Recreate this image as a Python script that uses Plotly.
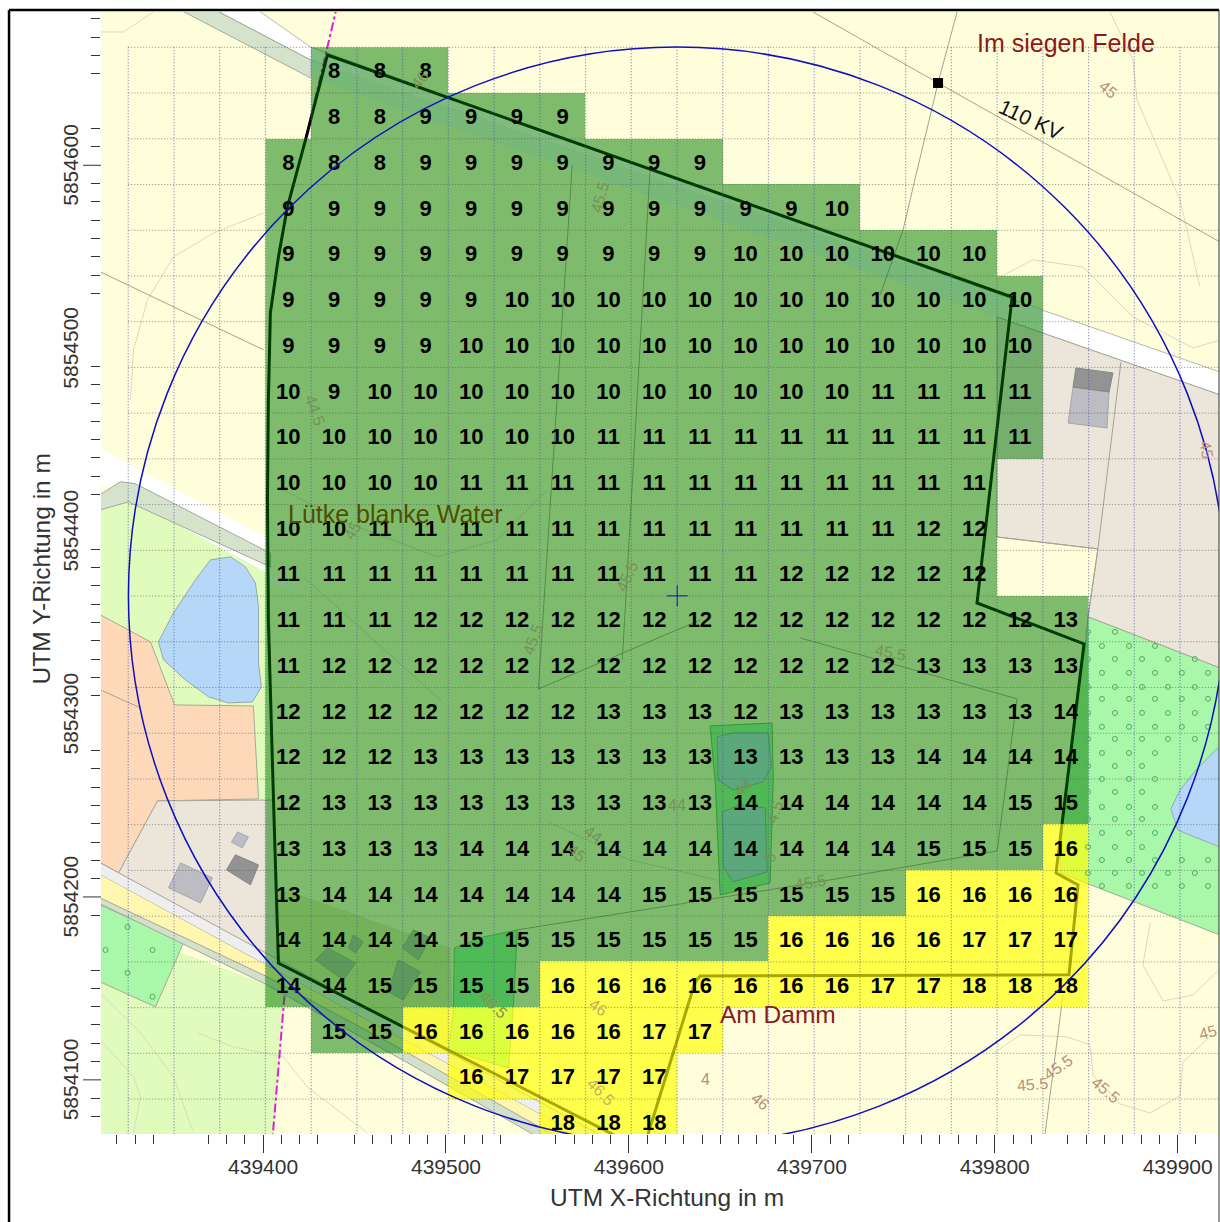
import plotly.graph_objects as go

# ---------- values ----------
E0 = 439000
N0 = 5854000
_ = None
cell_east = [439413.8, 439438.8, 439463.8, 439488.8, 439513.8, 439538.8, 439563.8, 439588.8, 439613.8,
             439638.8, 439663.8, 439688.8, 439713.8, 439738.8, 439763.8, 439788.8, 439813.8, 439838.8]
cell_north = [5854652, 5854627, 5854602, 5854577, 5854552, 5854527, 5854502, 5854477, 5854452, 5854427,
              5854402, 5854377, 5854352, 5854327, 5854302, 5854277, 5854252, 5854227, 5854202, 5854177,
              5854152, 5854127, 5854102, 5854077]
cell_values = [
    [_, 8, 8, 8, _, _, _, _, _, _, _, _, _, _, _, _, _, _],
    [_, 8, 8, 9, 9, 9, 9, _, _, _, _, _, _, _, _, _, _, _],
    [8, 8, 8, 9, 9, 9, 9, 9, 9, 9, _, _, _, _, _, _, _, _],
    [9, 9, 9, 9, 9, 9, 9, 9, 9, 9, 9, 9, 10, _, _, _, _, _],
    [9, 9, 9, 9, 9, 9, 9, 9, 9, 9, 10, 10, 10, 10, 10, 10, _, _],
    [9, 9, 9, 9, 9, 10, 10, 10, 10, 10, 10, 10, 10, 10, 10, 10, 10, _],
    [9, 9, 9, 9, 10, 10, 10, 10, 10, 10, 10, 10, 10, 10, 10, 10, 10, _],
    [10, 9, 10, 10, 10, 10, 10, 10, 10, 10, 10, 10, 10, 11, 11, 11, 11, _],
    [10, 10, 10, 10, 10, 10, 10, 11, 11, 11, 11, 11, 11, 11, 11, 11, 11, _],
    [10, 10, 10, 10, 11, 11, 11, 11, 11, 11, 11, 11, 11, 11, 11, 11, _, _],
    [10, 10, 11, 11, 11, 11, 11, 11, 11, 11, 11, 11, 11, 11, 12, 12, _, _],
    [11, 11, 11, 11, 11, 11, 11, 11, 11, 11, 11, 12, 12, 12, 12, 12, _, _],
    [11, 11, 11, 12, 12, 12, 12, 12, 12, 12, 12, 12, 12, 12, 12, 12, 12, 13],
    [11, 12, 12, 12, 12, 12, 12, 12, 12, 12, 12, 12, 12, 12, 13, 13, 13, 13],
    [12, 12, 12, 12, 12, 12, 12, 13, 13, 13, 12, 13, 13, 13, 13, 13, 13, 14],
    [12, 12, 12, 13, 13, 13, 13, 13, 13, 13, 13, 13, 13, 13, 14, 14, 14, 14],
    [12, 13, 13, 13, 13, 13, 13, 13, 13, 13, 14, 14, 14, 14, 14, 14, 15, 15],
    [13, 13, 13, 13, 14, 14, 14, 14, 14, 14, 14, 14, 14, 14, 15, 15, 15, 16],
    [13, 14, 14, 14, 14, 14, 14, 14, 15, 15, 15, 15, 15, 15, 16, 16, 16, 16],
    [14, 14, 14, 14, 15, 15, 15, 15, 15, 15, 15, 16, 16, 16, 16, 17, 17, 17],
    [14, 14, 15, 15, 15, 15, 16, 16, 16, 16, 16, 16, 16, 17, 17, 18, 18, 18],
    [_, 15, 15, 16, 16, 16, 16, 16, 17, 17, _, _, _, _, _, _, _, _],
    [_, _, _, _, 16, 17, 17, 17, 17, _, _, _, _, _, _, _, _, _],
    [_, _, _, _, _, _, 18, 18, 18, _, _, _, _, _, _, _, _, _],
]
x_tick_vals = [439400, 439500, 439600, 439700, 439800, 439900]
y_tick_vals = [5854100, 5854200, 5854300, 5854400, 5854500, 5854600]
y_long_ticks = [5854100, 5854200, 5854600]
x_minor_offsets = [320, 330, 340, 370, 380, 390, 410, 420, 430, 450, 460, 470, 480, 490, 510, 520, 530, 560, 570,
                   580, 590, 610, 620, 630, 640, 650, 660, 670, 680, 690, 710, 720, 750, 760, 770, 780, 790, 810,
                   820, 840, 850, 860, 870, 880, 890, 910]
y_minor_offsets = [80, 90, 110, 120, 130, 140, 150, 160, 190, 210, 220, 230, 240, 250, 260, 270, 280, 310, 320, 330,
                   340, 350, 360, 370, 380, 390, 420, 430, 440, 450, 460, 470, 480, 490, 530, 540, 550, 560, 570,
                   580, 590, 610, 620, 650, 660, 670, 680]
grid_east = [326.3, 351.3, 376.3, 401.3, 426.3, 451.3, 476.3, 501.3, 526.3, 551.3, 576.3, 601.3, 626.3, 651.3,
             676.3, 701.3, 726.3, 751.3, 776.3, 801.3, 826.3, 851.3, 876.3, 901.3]
grid_north = [664.5, 639.5, 614.5, 589.5, 564.5, 539.5, 514.5, 489.5, 464.5, 439.5, 414.5, 389.5, 364.5, 339.5,
              314.5, 289.5, 264.5, 239.5, 214.5, 189.5, 164.5, 139.5, 114.5, 89.5]

# map underlay, metres east of E0 / north of N0
site_boundary = [(435.2, 660.3), (809.5, 528), (790.3, 360.7), (848.8, 338.3), (833.5, 213.1), (845.5, 206.6),
                 (840.6, 157.4), (639, 156.8), (636.2, 153.5), (607.8, 61.7), (408.4, 163.9), (405.7, 253),
                 (402.9, 351.4), (402.4, 417), (402.9, 471.7), (404, 519.3), (408.4, 549.9), (413.3, 577.2),
                 (423.2, 613.9)]
circle_center = (626.4, 364.6)
circle_radius = 300
land_lime_w = [(311.1, 411.6), (326.4, 416), (404, 380.4), (404, 253), (311.1, 253)]
land_peach = [(311.1, 354.2), (338.5, 339.4), (351.6, 305), (394.7, 304.4), (397.5, 253.6), (342.3, 252.5),
              (321, 213.1), (311.1, 218.6)]
land_tan_w = [(342.3, 252.5), (405.7, 253), (408.4, 164.5), (311.1, 218.6), (321, 213.1)]
land_tan_e = [(801.3, 517.1), (825.9, 508.4), (923.1, 474.5), (923.1, 325.2), (851, 353.1), (856.4, 390.3),
              (801.3, 396.8)]
land_lime_sw = [(300, 190), (401.3, 152.4), (411.7, 145.9), (411.1, 138.2), (405.7, 70.4), (404, 60), (300, 60)]
land_green_sw = [(311.1, 195.6), (356.5, 174.9), (341.2, 139.9), (311.1, 153.5)]
land_green_se = [(851, 353.1), (923.1, 325.2), (923.1, 179.2), (835.7, 213.1), (836.8, 238.8), (845, 310.4),
                 (849.3, 335)]
land_garden = [(420.4, 201.1), (502.4, 172.1), (503.5, 136.6), (501.3, 116.4), (476.2, 116.4), (420.4, 151.9),
               (408.4, 164.5), (408.4, 203.8)]
land_green_s = [(504.6, 172.1), (520.4, 178.1), (539, 182), (536.8, 139.9), (534.1, 106.5), (501.3, 116.4),
                (504, 136.6)]
basin_outer = [(644.4, 293.5), (678.3, 295.1), (678.9, 263.9), (677.2, 207.7), (649.9, 201.1), (647.2, 262.3)]
basin_1 = [(648.3, 287.5), (657, 289.7), (676.1, 289.7), (677.8, 271.1), (673.4, 262.9), (657, 258.5), (648.8, 263.9)]
basin_2 = [(651, 246.5), (660.8, 250.3), (674.5, 248.7), (675.6, 213.7), (657, 208.2), (651.5, 216.4), (651.5, 235)]
lake_w = [(382.2, 385.9), (371.2, 384.3), (363, 373.3), (351, 355.3), (342.8, 339.4), (345.6, 329.6), (357.6, 318.6),
          (370.2, 309.4), (381.1, 306.1), (394.2, 306.6), (399.1, 314.8), (397.5, 327.9), (397.5, 358.6),
          (395.8, 371.7), (390.4, 380.4)]
lake_e = [(923.1, 282.6), (910.5, 270), (901.3, 258.5), (896.3, 248.1), (900.1, 236.6), (910.5, 232.3), (923.1, 227.3)]
road_white_sw = [(311.1, 218.6), (595.3, 63.9), (595.3, 57.3), (311.1, 212)]
road_yellow_sw = [(311.1, 212), (595.3, 57.3), (573.4, 61.7), (476.2, 116.4), (401.3, 156.8), (311.1, 199.4)]
road_grey_sw = [(311.1, 199.4), (401.3, 156.8), (476.2, 116.4), (573.4, 61.7), (562.5, 61.7), (476.2, 110.9),
                (401.3, 152.4), (311.1, 196.2)]
road_grey_ne = [(349.4, 687.7), (368.5, 687.7), (425.9, 657.6), (425.9, 647.8)]
road_pale_ne = [(425.9, 657.6), (825.9, 520.9), (825.9, 508.4), (425.9, 647.8)]
road_white_ne = [(368.5, 687.7), (393.1, 687.7), (425.9, 664.7), (825.9, 520.9), (923.1, 487), (923.1, 474.5),
                 (825.9, 508.4), (425.9, 657.6)]
road_white_w = [(311.1, 426), (425, 365), (404, 372), (404, 396), (395, 400), (311.1, 445)]
road_grey_w = [(311.1, 411.6), (326.4, 416), (404, 380.4), (404, 388), (330, 426), (322, 427), (311.1, 420)]
buildings_light = [
    [(354.9, 218.6), (348.3, 205), (365.8, 196.7), (372.3, 210.4)],
    [(386, 235.5), (382.7, 230), (388.7, 226.8), (392, 232.8)],
    [(842.8, 478.8), (862.5, 476.1), (861.4, 456.4), (840.1, 459.1)],
]
buildings_dark = [
    [(384.9, 223), (380, 214.8), (393.1, 206.6), (397.5, 217.5)],
    [(844.4, 489.2), (864.6, 486.5), (862.5, 476.1), (842.8, 478.8)],
]
buildings_under_cells = [
    [(428.6, 165.6), (435.2, 172.1), (450.5, 163.9), (443.9, 154.6)],
    [(449.4, 179.2), (454.8, 175.4), (450.5, 169.4), (446.6, 172.1)],
    [(482.2, 182), (491.5, 177.6), (484.9, 165.6), (476.1, 172.1)],
    [(474, 165.6), (486, 159), (476.7, 143.7), (468.5, 148.1)],
]
parcel_lines = [
    [(700.7, 683.8), (769, 645), (923.1, 558.1)],
    [(779.4, 683.8), (769, 645), (755.4, 588.2), (749.9, 564.7), (737.3, 529.1)],
    [(569, 600.2), (550.5, 313.7), (639, 351.4)],
    [(611.7, 600.2), (596.4, 329.6)],
    [(693.6, 341.6), (812.2, 308.3), (801.3, 225.1), (700.7, 207.7), (539, 182)],
    [(311.1, 541.7), (400.2, 499.1)],
    [(837.3, 146.4), (827.5, 70.4)],
    [(311.1, 313.2), (333, 303.3)],
    [(869, 492.5), (856.4, 390.3), (851, 353.1)],
    [(801.3, 396.8), (856.4, 390.3)],
]
contour_lines = [
    [(311.1, 672.9), (323.7, 672.9), (340.1, 683.8)],
    [(327.5, 471.7), (329.2, 499.1), (336.8, 526.4), (351, 549.9), (372.9, 563), (400.2, 573.9)],
    [(311.1, 147.5), (333, 125.7), (351, 101.6), (361.4, 72.6)],
    [(311.1, 121.8), (329.2, 101.6), (333, 90.7), (329.2, 71)],
    [(364.1, 125.7), (383.8, 118), (411.1, 112.5), (424.2, 96.1), (457, 71)],
    [(884.9, 185.8), (881, 162.8), (892, 143.1), (908.4, 146.4), (923.1, 160.6)],
    [(799.1, 114.2), (813.8, 124.6), (839.5, 123.5), (852.1, 119.1), (853.7, 102.7), (868.5, 86.8), (884.9, 81.9),
     (901.3, 91.2), (902.9, 109.8), (917.6, 123.5)],
    [(863, 683.8), (875.6, 657.6), (877.8, 635.7), (901.3, 581), (912.2, 533.5)],
    [(802.9, 539), (820.9, 548.3), (848.3, 544.4), (875.6, 517.1), (908.4, 500.1), (923.1, 504.5)],
    [(411.1, 422.5), (446.1, 404.5), (495.3, 385.9), (528.1, 395.2), (555.4, 422.5)],
    [(557, 240.5), (577.2, 231.2), (600.7, 220.2), (648.3, 209.3)],
    [(422.1, 375), (498.6, 306.1)],
]
power_line_top = [(440.6, 687.7), (423.2, 613.9)]
power_line_bottom = [(411.7, 145.9), (405.1, 67.1)]
tree_a_e = [851, 865.7, 880.5, 894.7, 909.4]
tree_a_n = [344.9, 330.1, 314.8, 300.6, 286.4, 271.6, 257.4, 242.6, 227.3, 213.1]
tree_b_e = [858.6, 873.4, 887.6, 902.3, 916.6]
tree_b_n = [337.2, 322.5, 308.3, 293, 278.7, 264.5, 249.2, 235, 220.2, 206]
tree_sw = [(325.9, 183.6), (313.9, 171), (339.6, 171), (325.9, 158.5), (339.6, 145.4)]
mast = (769, 645)
contour_labels = [
    ("45", 861.9, 641.2, 40, "#b98f7c"), ("45.5", 820.9, 97.2, -5, "#b98f7c"), ("45.5", 834.6, 106.5, -35, "#b98f7c"),
    ("45.5", 860.3, 94.5, 40, "#b98f7c"), ("45", 916.5, 125.7, -15, "#b98f7c"), ("4", 641.7, 100, 0, "#b98f7c"),
    ("46", 671.8, 87.9, 40, "#b98f7c"), ("46.5", 584.3, 93.4, 45, "#c2b060"), ("46", 583.2, 139.3, 35, "#c2b060"),
    ("46.5", 525.9, 141, 45, "#8f8f50"), ("44", 626.4, 249.8, 0, "#76925a"), ("44", 662.5, 260.1, -40, "#76925a"),
    ("4.5", 680, 246.5, -70, "#76925a"), ("5", 677.2, 221.3, -70, "#76925a"), ("44", 580.5, 233.9, 35, "#76925a"),
    ("45", 571.8, 224, 40, "#76925a"), ("45.5", 599.1, 375, -65, "#76925a"), ("45.5", 584.3, 582.2, -75, "#76925a"),
    ("45.5", 547.7, 340.5, -70, "#76925a"), ("45.5", 742.8, 333.9, 10, "#76925a"), ("45.5", 699.1, 207.7, -10, "#76925a"),
    ("44.5", 428.6, 466.2, 70, "#76925a"), ("45", 448.8, 400.6, -60, "#76925a"), ("46", 486, 646.7, -50, "#76925a"),
    ("45", 915.5, 444.4, 80, "#b98f7c"),
]
place_labels = [
    ("Im siegen Felde", 839, 666.9, 0, 25, "#8b1a1a"),
    ("Am Damm", 681.6, 135.5, 0, 24.5, "#8b1a1a"),
    ("Lütke blanke Water", 472.3, 409.4, 0, 25, "#4f4f00"),
    ("110 KV", 819.8, 624.8, 25, 21, "#111111"),
]
FONT = "Liberation Sans, Arial, sans-serif"


# ---------- helpers ----------
def utm(p):
    return E0 + p[0], N0 + p[1]


def poly(points, fill, line="rgba(0,0,0,0)", width=0, layer="below"):
    coords = [utm(p) for p in points]
    path = "M " + " L ".join(f"{x},{y}" for x, y in coords) + " Z"
    return dict(type="path", path=path, xref="x", yref="y", fillcolor=fill, layer=layer,
                line=dict(color=line, width=width))


def polyline(points, color, width=1, dash="solid", layer="below"):
    coords = [utm(p) for p in points]
    path = "M " + " L ".join(f"{x},{y}" for x, y in coords)
    return dict(type="path", path=path, xref="x", yref="y", layer=layer, line=dict(color=color, width=width, dash=dash))


EDGE = "#a5a89a"
shapes = [
    poly(road_white_ne, "#ffffff", "#b8b8a8", 1),
    poly(road_grey_ne, "#d5e3cd", EDGE, 1),
    poly(road_pale_ne, "#eef6ee"),
    poly(land_lime_w, "#e0fbbb"),
    poly(road_white_w, "#ffffff"),
    poly(road_grey_w, "#d5e3cd", EDGE, 1),
    poly(land_peach, "#fdd9ba", EDGE, 1),
    poly(land_tan_w, "#ebe5da", EDGE, 1),
    poly(land_tan_e, "#ebe5da", EDGE, 1),
    poly(land_lime_sw, "#e0fbbb"),
    poly(land_green_sw, "#a9f7a9", EDGE, 1),
    poly(land_green_se, "#a9f7a9", EDGE, 1),
    poly(land_garden, "#e6edb0"),
    poly(land_green_s, "#9cfcb0", "#7fbf70", 1),
    poly(basin_outer, "#a0f8a8", "#6fb070", 1),
    poly(basin_1, "#b5d8f8", "#8fa8b0", 1),
    poly(basin_2, "#b5d8f8", "#8fa8b0", 1),
    poly(lake_w, "#b5d8f8", "#98a8b0", 1),
    poly(lake_e, "#b5d8f8", "#98a8b0", 1),
    poly(road_white_sw, "#eeeeee", EDGE, 1),
    poly(road_yellow_sw, "#fff7b0"),
    poly(road_grey_sw, "#d3e0ca", EDGE, 1),
]
shapes += [poly(b, "#bcbcc2", "#a8a8a8", 1) for b in buildings_light]
shapes += [poly(b, "#939393", "#858585", 1) for b in buildings_dark]
shapes += [poly(b, "#b6bcb6", "#a0a8a0", 1) for b in buildings_under_cells]
shapes += [polyline(c, "#d9d9c4", 1) for c in contour_lines]
shapes += [polyline(p, "#a3a394", 1) for p in parcel_lines]
shapes += [polyline(power_line_top, "#e020d0", 2, "dashdot"), polyline(power_line_bottom, "#e020d0", 2, "dashdot")]
shapes.append(poly(site_boundary, "rgba(0,0,0,0)", "#000000", 3))
cx, cy = utm(circle_center)
shapes.append(dict(type="circle", xref="x", yref="y", x0=cx - circle_radius, x1=cx + circle_radius,
                   y0=cy - circle_radius, y1=cy + circle_radius, layer="above", line=dict(color="#1010c0", width=1.5)))

# long y ticks (the other y labels have none in the source)
PW, PH = 1118.5, 1122.0
for v in y_long_ticks:
    shapes.append(dict(type="line", xref="paper", yref="y", x0=-18 / PW, x1=0, y0=v, y1=v, layer="above",
                       line=dict(color="#333333", width=1)))
# outer frame of the page
shapes += [
    dict(type="line", xref="paper", yref="paper", x0=-92 / PW, x1=-92 / PW, y0=-92 / PH, y1=1 + 2 / PH,
         line=dict(color="#000000", width=2.5)),
    dict(type="line", xref="paper", yref="paper", x0=-92 / PW, x1=1, y0=1 + 2 / PH, y1=1 + 2 / PH,
         line=dict(color="#000000", width=2.5)),
    dict(type="line", xref="paper", yref="paper", x0=1, x1=1, y0=-92 / PH, y1=1 + 2 / PH,
         line=dict(color="#333333", width=1)),
]

fig = go.Figure()
fig.add_trace(go.Heatmap(
    x=cell_east, y=cell_north, z=cell_values, zmin=8, zmax=18, showscale=False, hoverinfo="skip", xgap=0, ygap=0,
    colorscale=[[0, "rgba(0,120,0,0.5)"], [0.75, "rgba(0,120,0,0.5)"],
                [0.75, "rgba(255,255,0,0.66)"], [1, "rgba(255,255,0,0.66)"]],
))

# dotted calculation grid
top_n = N0 + grid_north[0]
vx, vy = [], []
for e in grid_east:
    vx += [E0 + e, E0 + e, None]
    vy += [top_n, N0 + 60, None]
hx, hy = [], []
for n in grid_north:
    hx += [E0 + grid_east[0], E0 + 930, None]
    hy += [N0 + n, N0 + n, None]
fig.add_trace(go.Scatter(x=vx, y=vy, mode="lines", hoverinfo="skip", showlegend=False,
                         line=dict(color="rgba(80,80,170,0.7)", width=1.2, dash="1px,2px")))
fig.add_trace(go.Scatter(x=hx, y=hy, mode="lines", hoverinfo="skip", showlegend=False,
                         line=dict(color="rgba(80,80,80,0.65)", width=1, dash="1px,2px")))

# tree symbols on the green fields
te, tn = [], []
for es, ns in ((tree_a_e, tree_a_n), (tree_b_e, tree_b_n)):
    for e in es:
        for n in ns:
            top = 353.1 - 0.387 * (e - 851)
            low = 206.0 - 0.388 * (e - 851)
            in_lake = e > 893 and 225 < n < 285
            if low < n < top and not in_lake:
                te.append(E0 + e)
                tn.append(N0 + n)
te += [E0 + p[0] for p in tree_sw]
tn += [N0 + p[1] for p in tree_sw]
fig.add_trace(go.Scatter(x=te, y=tn, mode="markers", hoverinfo="skip", showlegend=False,
                         marker=dict(symbol="circle-open", size=5, color="#4fae62", line=dict(width=1))))

# centre cross and mast
fig.add_trace(go.Scatter(x=[cx], y=[cy], mode="markers", hoverinfo="skip", showlegend=False,
                         marker=dict(symbol="cross-thin-open", size=15, color="#1010c0", line=dict(width=1, color="#1010c0"))))
mx, my = utm(mast)
fig.add_trace(go.Scatter(x=[mx], y=[my], mode="markers", hoverinfo="skip", showlegend=False,
                         marker=dict(symbol="square", size=10, color="#000000")))

# cell numbers (glyphs sit a little high in their line box, so nudge them down)
label_nudge = 1.5
tx, ty, tt = [], [], []
for j, row in enumerate(cell_values):
    for i, v in enumerate(row):
        if v is not None:
            tx.append(cell_east[i])
            ty.append(cell_north[j] - label_nudge)
            tt.append(str(v))
fig.add_trace(go.Scatter(x=tx, y=ty, text=tt, mode="text", hoverinfo="skip", showlegend=False, cliponaxis=True,
                         textposition="middle center",
                         textfont=dict(family=FONT, size=22, color="#000000", weight=700)))

annotations = []
ANCH = dict(showarrow=False, xanchor="center", yanchor="middle")
for t, e, n, rot, col in contour_labels:
    x, y = utm((e, n))
    annotations.append(dict(x=x, y=y, text=t, textangle=rot, xref="x", yref="y",
                            font=dict(family=FONT, size=16, color=col), **ANCH))
for t, e, n, rot, size, col in place_labels:
    x, y = utm((e, n))
    annotations.append(dict(x=x, y=y, text=t, textangle=rot, xref="x", yref="y",
                            font=dict(family=FONT, size=size, color=col), **ANCH))
for v in y_tick_vals:
    annotations.append(dict(x=(70 - 100.5) / PW, y=v, xref="paper", yref="y", text=str(v), textangle=-90,
                            font=dict(family=FONT, size=21, color="#333333"), **ANCH))
annotations.append(dict(x=(667 - 100.5) / PW, y=(1134 - 1197) / PH, xref="paper", yref="paper",
                        text="UTM X-Richtung in m", font=dict(family=FONT, size=24.5, color="#333333"), **ANCH))
annotations.append(dict(x=(40 - 100.5) / PW, y=(1134 - 569) / PH, xref="paper", yref="paper",
                        textangle=-90, text="UTM Y-Richtung in m", font=dict(family=FONT, size=24.5, color="#333333"), **ANCH))

fig.update_layout(
    width=1220, height=1222, showlegend=False,
    margin=dict(l=100.5, r=1, t=12, b=88, pad=0),
    paper_bgcolor="#ffffff", plot_bgcolor="#fffedb",
    shapes=shapes, annotations=annotations,
    font=dict(family=FONT, color="#333333"),
    xaxis=dict(
        range=[439311.4, 439922.6], showgrid=False, zeroline=False, showline=False,
        tickmode="array", tickvals=x_tick_vals, ticktext=[str(v) for v in x_tick_vals],
        ticks="outside", ticklen=18, tickwidth=1, tickcolor="#333333", ticklabelstandoff=-4,
        tickfont=dict(family=FONT, size=21, color="#333333"),
        minor=dict(tickmode="array", tickvals=[E0 + v for v in x_minor_offsets], ticks="outside", ticklen=9,
                   tickwidth=1, tickcolor="#333333", showgrid=False),
        automargin=False,
    ),
    yaxis=dict(
        range=[5854070.4, 5854683.8], showgrid=False, zeroline=False, showline=False,
        showticklabels=False, tickmode="array", tickvals=y_tick_vals,
        ticks="",
        minor=dict(tickmode="array", tickvals=[N0 + v for v in y_minor_offsets], ticks="outside", ticklen=9,
                   tickwidth=1, tickcolor="#333333", showgrid=False),
        automargin=False,
    ),
)
fig.write_html("out.html", config=dict(displayModeBar=False),
               post_script="document.body.style.margin='0';document.documentElement.style.overflow='hidden';")
